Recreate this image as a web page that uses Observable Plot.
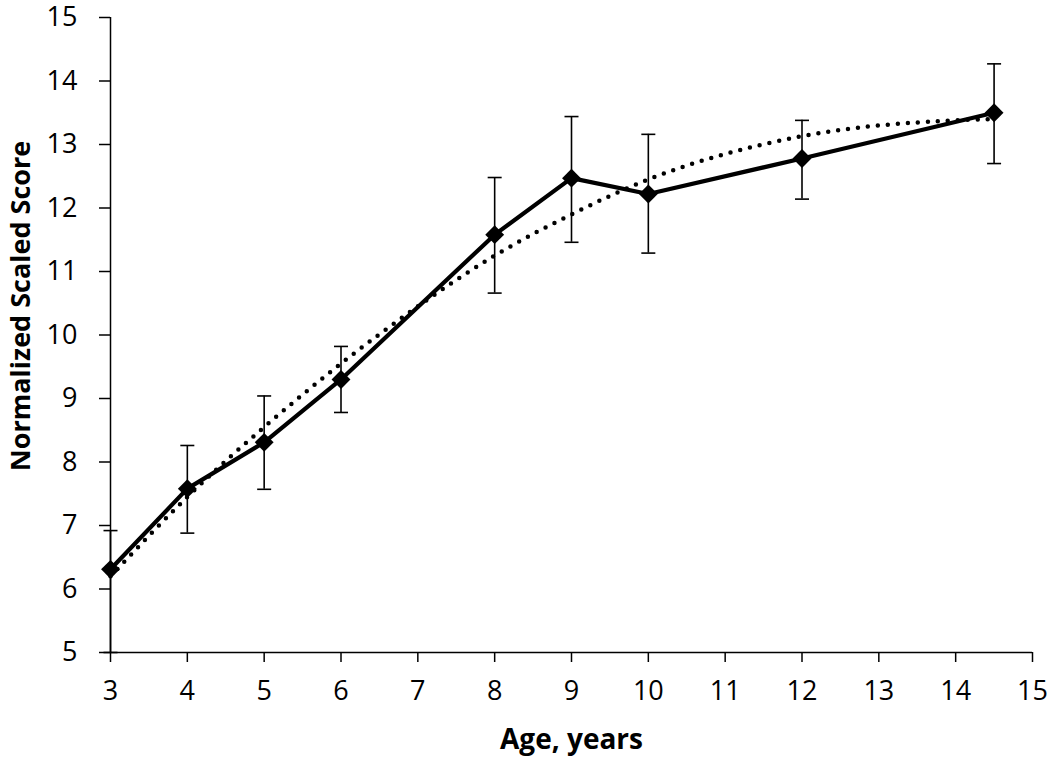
<!DOCTYPE html>
<html>
<head>
<meta charset="utf-8">
<script src="https://cdn.jsdelivr.net/npm/d3@7"></script>
<script src="https://cdn.jsdelivr.net/npm/@observablehq/plot@0.6"></script>
<style>
  html, body { margin: 0; padding: 0; background: #fff; }
  #chart svg { display: block; }
</style>
</head>
<body>
<div id="chart"></div>
<script>
// Observed means with error bars
const ages   = [3, 4, 5, 6, 8, 9, 10, 12, 14.5];
const scores = [6.31, 7.58, 8.31, 9.30, 11.58, 12.47, 12.22, 12.78, 13.50];
const errLow = [5.00, 6.88, 7.57, 8.78, 10.66, 11.46, 11.29, 12.14, 12.70];
const errHigh= [6.92, 8.26, 9.04, 9.82, 12.48, 13.44, 13.16, 13.38, 14.27];

// Dotted trend line
const trendAges   = [3, 4, 5, 6, 7, 8, 9, 10, 11, 12, 13, 14, 14.5];
const trendScores = [6.2, 7.45, 8.55, 9.55, 10.45, 11.25, 11.9, 12.45, 12.85, 13.13, 13.3, 13.38, 13.4];

const xTicks = [3, 4, 5, 6, 7, 8, 9, 10, 11, 12, 13, 14, 15];
const yTicks = [5, 6, 7, 8, 9, 10, 11, 12, 13, 14, 15];

const xTitle = "Age, years";
const yTitle = "Normalized Scaled Score";

const points = ages.map((a, i) => ({age: a, score: scores[i], lo: errLow[i], hi: errHigh[i]}));
const trend = trendAges.map((a, i) => ({age: a, score: trendScores[i]}));

const capSymbol = {
  draw(ctx, size) {
    const r = 7;
    ctx.moveTo(-r, 0);
    ctx.lineTo(r, 0);
  }
};

const fontFamily = "'Open Sans', sans-serif";

const chart = Plot.plot({
  width: 1050,
  height: 757,
  marginLeft: 110,
  marginRight: 18,
  marginTop: 17,
  marginBottom: 105,
  style: {fontFamily, fontSize: "27px", color: "#000", background: "#fff"},
  x: {domain: [3, 15], ticks: xTicks},
  y: {domain: [5, 15], ticks: yTicks},
  marks: [
    Plot.axisY({ticks: yTicks, tickSize: 11, tickPadding: 22, tickFormat: d => d, label: null, strokeWidth: 1.5, fontSize: 27}),
    Plot.axisX({ticks: xTicks, tickSize: 10, tickPadding: 18, tickFormat: d => d, label: null, strokeWidth: 1.5, fontSize: 27}),
    Plot.ruleX([3], {stroke: "#000", strokeWidth: 1.5}),
    Plot.ruleY([5], {stroke: "#000", strokeWidth: 1.5}),
    // error bars
    Plot.ruleX(points, {x: "age", y1: "lo", y2: "hi", stroke: "#000", strokeWidth: 1.6}),
    Plot.dot(points, {x: "age", y: "lo", symbol: capSymbol, r: 5, stroke: "#000", strokeWidth: 1.6, fill: "none"}),
    Plot.dot(points, {x: "age", y: "hi", symbol: capSymbol, r: 5, stroke: "#000", strokeWidth: 1.6, fill: "none"}),
    // trend (dotted)
    Plot.line(trend, {x: "age", y: "score", curve: "natural", stroke: "#000", strokeWidth: 4.5, strokeDasharray: "0,10", strokeLinecap: "round"}),
    // observed line
    Plot.line(points, {x: "age", y: "score", stroke: "#000", strokeWidth: 4.2}),
    Plot.dot(points, {x: "age", y: "score", symbol: "diamond2", r: 8.5, fill: "#000", stroke: "none"}),
    // axis titles
    Plot.text([xTitle], {frameAnchor: "bottom", dy: 96, text: d => d, fontWeight: "bold", fontSize: 28, lineAnchor: "bottom"}),
    Plot.text([yTitle], {frameAnchor: "left", textAnchor: "middle", dx: -89, dy: -29, rotate: -90, text: d => d, fontWeight: "bold", fontSize: 27})
  ]
});
document.getElementById("chart").appendChild(chart);
</script>
</body>
</html>
